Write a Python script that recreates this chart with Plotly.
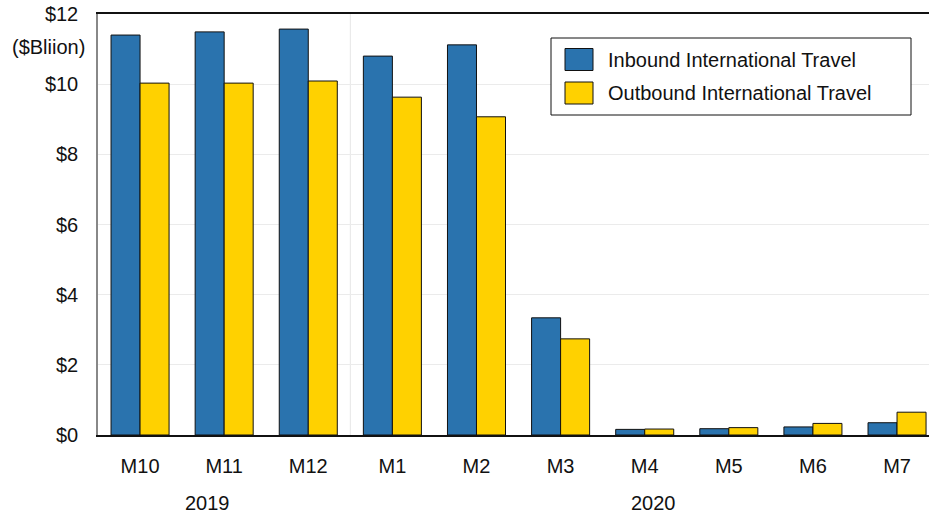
import plotly.graph_objects as go

months = ["M10", "M11", "M12", "M1", "M2", "M3", "M4", "M5", "M6", "M7"]
years = ["2019", "2019", "2019", "2020", "2020", "2020", "2020", "2020", "2020", "2020"]
inbound = [11.40, 11.49, 11.57, 10.80, 11.12, 3.34, 0.16, 0.18, 0.23, 0.35]
outbound = [10.03, 10.03, 10.09, 9.63, 9.07, 2.74, 0.17, 0.21, 0.33, 0.65]
series_names = ["Inbound International Travel", "Outbound International Travel"]
colors = ["#2A73AE", "#FFD100"]
y_ticks = [0, 2, 4, 6, 8, 10, 12]
y_ticklabels = ["$" + str(v) for v in y_ticks]

W, H = 929, 520
L, R, T, B = 98, 0, 14, 85
PW, PH = W - L - R, H - T - B
FONT = "Liberation Sans, Arial, Helvetica, sans-serif"


def px(xp):
    return (xp - L) / PW


def py(yp):
    return (H - B - yp) / PH


fig = go.Figure()
xs = list(range(len(months)))
for name, vals, col in zip(series_names, [inbound, outbound], colors):
    fig.add_trace(go.Bar(
        x=xs, y=vals, name=name, marker=dict(color=col, line=dict(color="#111111", width=1)),
        showlegend=False, hovertemplate="%{y}<extra>" + name + "</extra>",
    ))

# divider between years
split = years.index("2020") - 0.5
fig.add_shape(type="line", xref="x", yref="paper", x0=split, x1=split, y0=0, y1=1,
              line=dict(color="#e6e6e6", width=1), layer="below")

# year labels
for yr in ["2019", "2020"]:
    idx = [i for i, y in enumerate(years) if y == yr]
    center = (idx[0] + idx[-1]) / 2
    if yr == "2019":
        center -= 0.2
    else:
        center += 0.1
    fig.add_annotation(x=center, xref="x", y=py(503), yref="paper", text=yr, showarrow=False,
                       font=dict(size=20, color="#111111", family=FONT), xanchor="center", yanchor="middle")

# unit label
fig.add_annotation(x=px(87), xref="paper", y=py(47), yref="paper", text="($Bliion)", showarrow=False,
                   font=dict(size=20, color="#111111", family=FONT), xanchor="right", yanchor="middle")

# legend (manual, to match big swatches)
fig.add_shape(type="rect", xref="paper", yref="paper", x0=px(551), x1=px(911), y0=py(115), y1=py(38),
              line=dict(color="#111111", width=1), fillcolor="white", layer="above")
for i, (name, col) in enumerate(zip(series_names, colors)):
    yc = 59.5 + i * 33.5
    fig.add_shape(type="rect", xref="paper", yref="paper", x0=px(565), x1=px(593),
                  y0=py(yc + 11), y1=py(yc - 11), fillcolor=col, line=dict(color="#111111", width=1), layer="above")
    fig.add_annotation(x=px(606), xref="paper", y=py(yc), yref="paper", text=name, showarrow=False,
                       font=dict(size=20, color="#111111", family=FONT), xanchor="left", yanchor="middle")

fig.update_layout(
    width=W, height=H,
    margin=dict(l=L, r=R, t=T, b=B),
    paper_bgcolor="white", plot_bgcolor="white",
    barmode="group", bargap=0.31, bargroupgap=0,
    font=dict(family=FONT, size=20, color="#111111"),
    showlegend=False,
    xaxis=dict(
        tickmode="array", tickvals=xs, ticktext=months, range=[-0.5, 9.38],
        showline=True, linecolor="#111111", linewidth=1.5, mirror=True,
        showgrid=False, ticks="outside", ticklen=12, tickcolor="rgba(0,0,0,0)",
        tickfont=dict(size=20), fixedrange=True,
    ),
    yaxis=dict(
        tickmode="array", tickvals=y_ticks, ticktext=y_ticklabels, range=[0, 12],
        showline=True, linecolor="#888888", linewidth=1.5, mirror=False,
        showgrid=True, gridcolor="#ebebeb", gridwidth=1, zeroline=False,
        ticks="outside", ticklen=14, tickcolor="rgba(0,0,0,0)", tickfont=dict(size=20),
        fixedrange=True,
    ),
)

fig.write_html("out.html", config={"displayModeBar": False},
               post_script="document.body.style.margin='0';document.body.style.overflow='hidden';")
